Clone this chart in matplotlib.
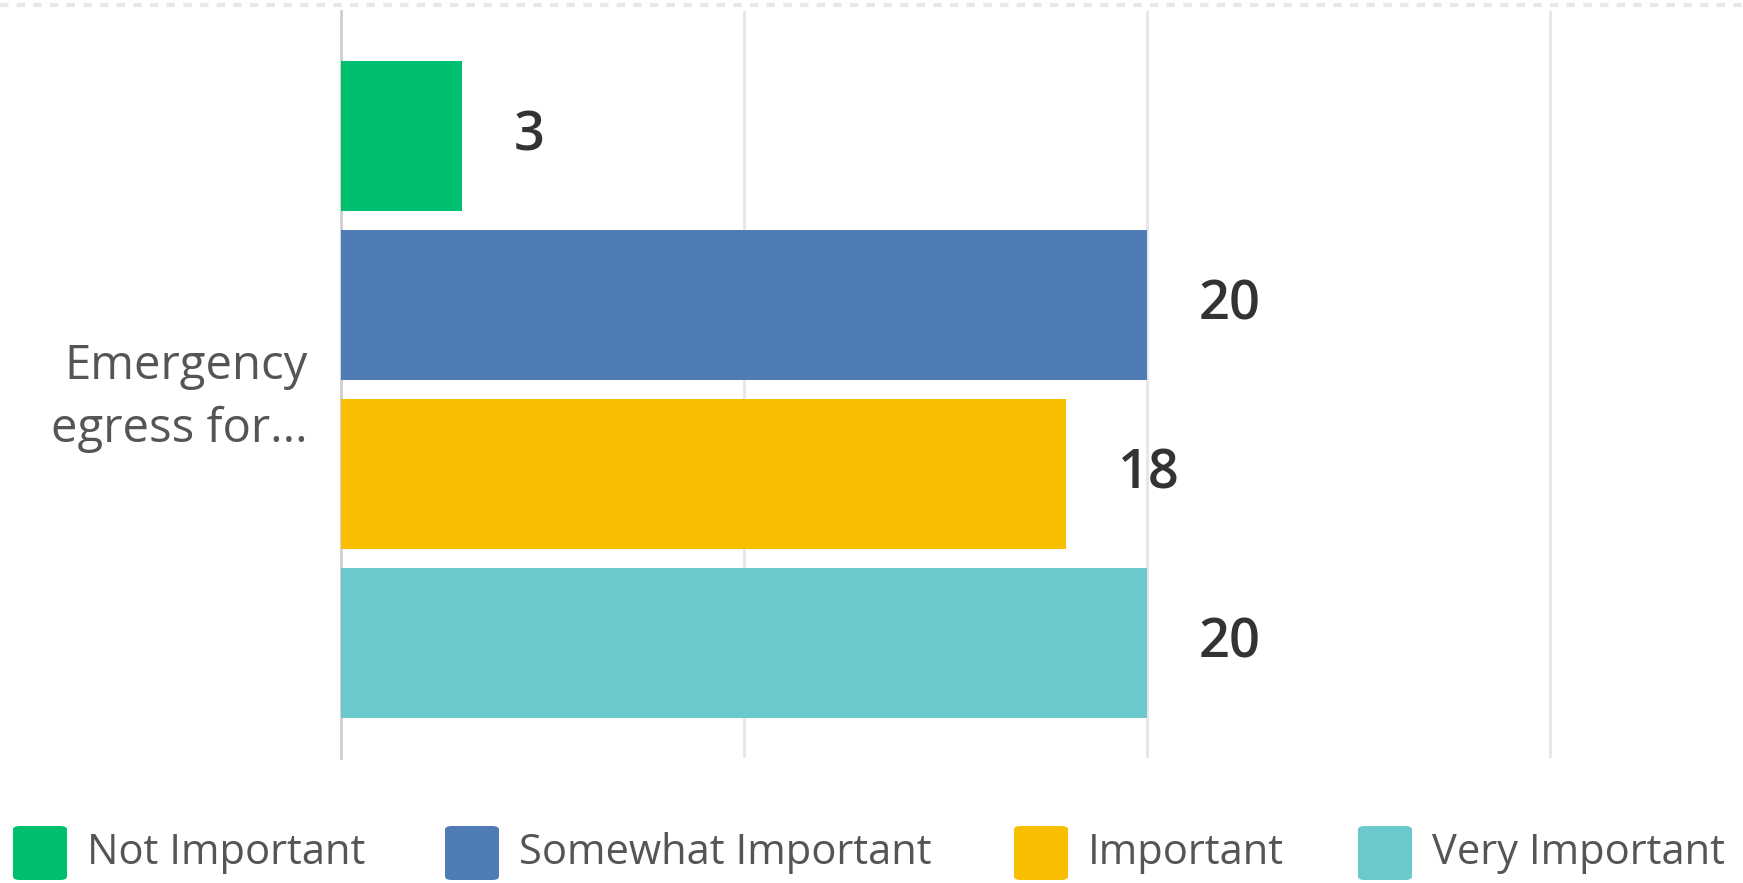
import matplotlib
matplotlib.use("Agg")
import matplotlib.pyplot as plt
import matplotlib.transforms as mtransforms
from matplotlib.patches import FancyBboxPatch
from matplotlib.lines import Line2D

# data
category = "Emergency\negress for..."
series = ["Not Important", "Somewhat Important", "Important", "Very Important"]
values = [3, 20, 18, 20]
colors = ["#00BF6F", "#507CB6", "#F9BE00", "#6BC8CD"]
xticks = [0, 10, 20, 30]

plt.rcParams["font.family"] = ["Open Sans", "DejaVu Sans"]

fig = plt.figure(figsize=(17.43, 8.83), dpi=100)
ax = fig.add_axes([341 / 1743, 1 - 758 / 883, 1 - 341 / 1743, 747 / 883])

pos = list(range(len(values)))
ax.barh(pos, values, height=0.888, color=colors, zorder=3)

for p, v in zip(pos, values):
    ax.annotate(str(v), (v, p), xytext=(37, 0), textcoords="offset points",
                ha="left", va="center", fontsize=39, fontweight="semibold",
                color="#333333")

ax.set_xlim(0, 34.8)
ax.set_ylim(3.68, -0.74)
ax.set_xticks(xticks)
ax.set_xticklabels([])
ax.tick_params(axis="x", length=0)
ax.set_yticks([1.5])
ax.set_yticklabels([category], fontsize=34, color="#555555", linespacing=1.42)
ax.tick_params(axis="y", length=0, pad=24)
# nudge the category label up a little
shift = mtransforms.ScaledTranslation(0, 5 / 100, fig.dpi_scale_trans)
for lbl in ax.get_yticklabels():
    lbl.set_transform(lbl.get_transform() + shift)
ax.grid(axis="x", color="#e6e6e6", linewidth=2, zorder=0)
for s in ["top", "right", "bottom"]:
    ax.spines[s].set_visible(False)
ax.spines["left"].set_color("#cfcfcf")
ax.spines["left"].set_linewidth(2)

# faint dotted line at the very top
fig.add_artist(Line2D([0, 1], [1 - 5 / 883, 1 - 5 / 883], color="#e8e8e8",
                      linewidth=3, linestyle=(0, (2, 2))))

# legend, drawn by hand
patch_x = [13, 445, 1014, 1358]
for px, name, c in zip(patch_x, series, colors):
    box = FancyBboxPatch((px / 1743, 1 - 880 / 883), 54 / 1743, 54 / 883,
                         boxstyle="round,pad=0,rounding_size=0.004",
                         transform=fig.transFigure, facecolor=c,
                         edgecolor="none")
    fig.add_artist(box)
    fig.text((px + 74) / 1743, 1 - 853 / 883, name, fontsize=30,
             color="#555555", ha="left", va="center")

fig.savefig("out.png", dpi=100)
